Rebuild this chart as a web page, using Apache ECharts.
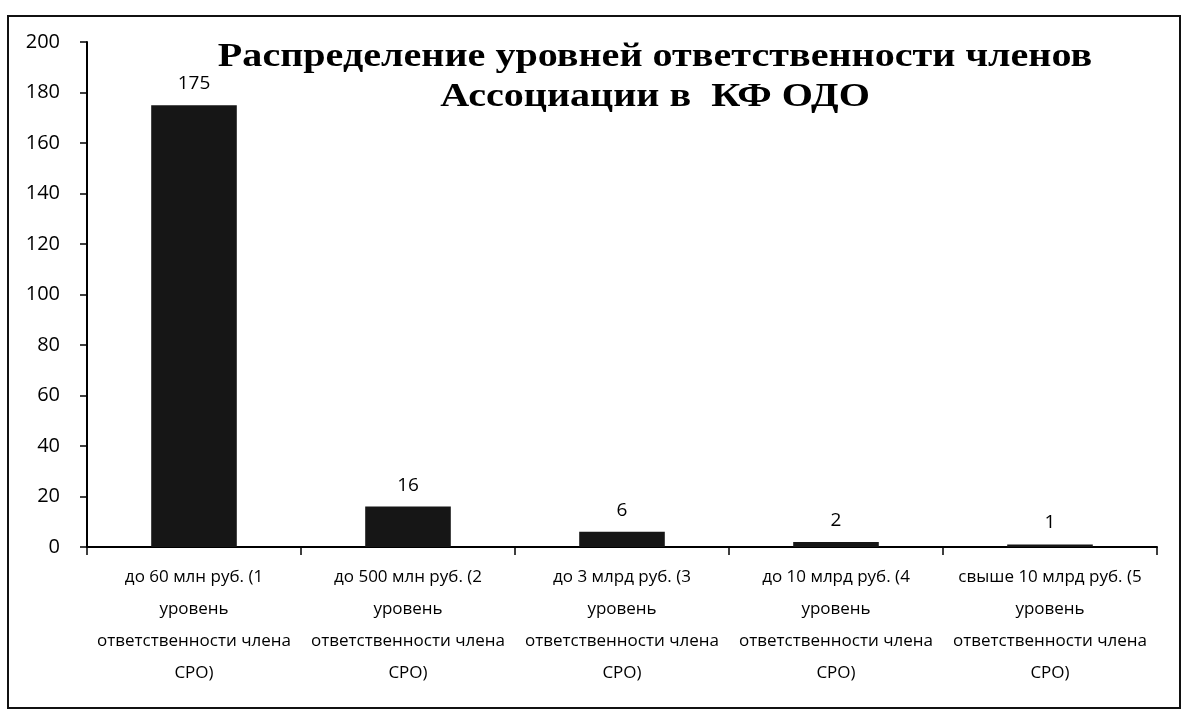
<!DOCTYPE html>
<html><head><meta charset="utf-8">
<script src="https://cdn.jsdelivr.net/npm/echarts@6/dist/echarts.min.js"></script>
<style>html,body{margin:0;padding:0;background:#fff}#c{width:1182px;height:712px}</style>
</head><body><div id="c"></div>
<script>
const categories = [
  'до 60 млн руб. (1\nуровень\nответственности члена\nСРО)',
  'до 500 млн руб. (2\nуровень\nответственности члена\nСРО)',
  'до 3 млрд руб. (3\nуровень\nответственности члена\nСРО)',
  'до 10 млрд руб. (4\nуровень\nответственности члена\nСРО)',
  'свыше 10 млрд руб. (5\nуровень\nответственности члена\nСРО)'
];
const values = [175, 16, 6, 2, 1];
const titleText = 'Распределение уровней ответственности членов\nАссоциации в  КФ ОДО';

const chart = echarts.init(document.getElementById('c'), null, {renderer: 'canvas'});
chart.setOption({
  backgroundColor: '#fff',
  animation: false,
  graphic: [{
    type: 'rect', shape: {x: 8, y: 16, width: 1172, height: 692},
    style: {fill: 'none', stroke: '#111', lineWidth: 2}, z: -1
  }, {
    type: 'text', x: 655, y: 37, scaleX: 1.18, originX: 0, originY: 0,
    style: {text: titleText, align: 'center', verticalAlign: 'top',
      font: 'bold 34px "Liberation Serif"', lineHeight: 40, fill: '#000'}
  }],
  grid: {left: 87, right: 25, top: 42, bottom: 165},
  xAxis: {
    type: 'category', data: categories,
    axisLine: {lineStyle: {color: '#000', width: 2}},
    axisTick: {show: true, length: 8, lineStyle: {color: '#000', width: 1.5}},
    axisLabel: {color: '#000', fontFamily: 'Open Sans', fontSize: 17, lineHeight: 32, margin: 14, interval: 0}
  },
  yAxis: {
    type: 'value', min: 0, max: 200, interval: 20,
    splitLine: {show: false},
    axisLine: {show: true, lineStyle: {color: '#000', width: 2}},
    axisTick: {show: true, length: 7, lineStyle: {color: '#000', width: 1.5}},
    axisLabel: {color: '#000', fontFamily: 'Open Sans', fontSize: 20, margin: 27}
  },
  series: [{
    type: 'bar', data: values, barWidth: '40%',
    itemStyle: {color: '#161616'},
    label: {show: true, position: 'top', distance: 12, color: '#000', fontFamily: 'Open Sans', fontSize: 19}
  }]
});
</script></body></html>
